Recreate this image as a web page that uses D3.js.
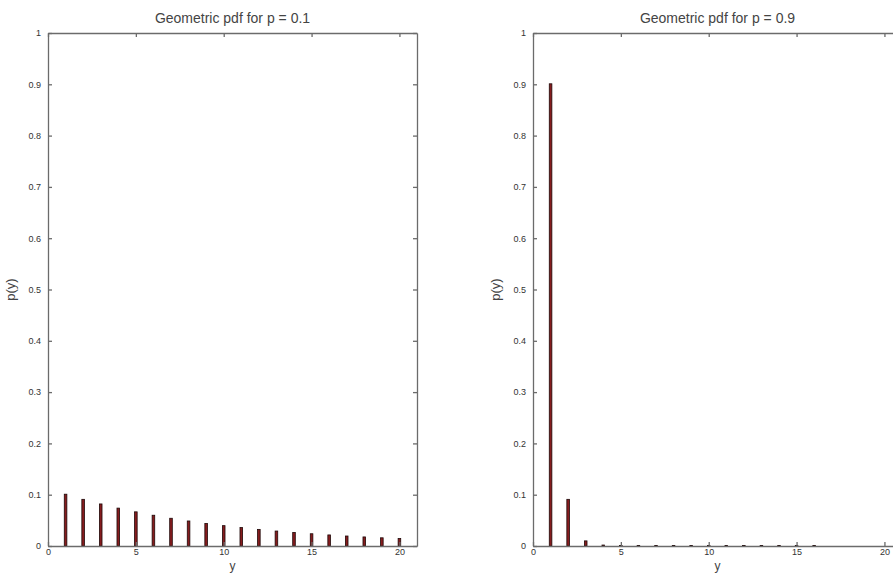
<!DOCTYPE html>
<html>
<head>
<meta charset="utf-8">
<script src="https://cdn.jsdelivr.net/npm/d3@7"></script>
<style>
  body { margin: 0; background: #fff; }
  svg { display: block; }
  .axis path, .axis line { stroke: #6b6b6b; stroke-width: 1.3; }
  .axis text { fill: #333; font-family: "Liberation Sans", Arial, sans-serif; font-size: 9px; }
  .title { fill: #444; font-family: "Liberation Sans", Arial, sans-serif; font-size: 14px; }
  .label { fill: #444; font-family: "Liberation Sans", Arial, sans-serif; font-size: 13px; }
</style>
</head>
<body>
<svg id="chart" width="893" height="576"></svg>
<script>
// y values (number of trials)
var yValues = [1, 2, 3, 4, 5, 6, 7, 8, 9, 10, 11, 12, 13, 14, 15, 16, 17, 18, 19, 20];

// p = 0.1
var pdfLow = [0.1, 0.09, 0.081, 0.0729, 0.0656, 0.059, 0.0531, 0.0478, 0.043, 0.0387,
              0.0349, 0.0314, 0.0282, 0.0254, 0.0229, 0.0206, 0.0185, 0.0167, 0.015, 0.0135];

// right panel, p = 0.9 (only the first 16 stems leave a visible mark)
var pdfHigh = [0.9, 0.09, 0.009, 0.0009, 0.00009, 0.000009, 0.0000009, 0.00000009,
               0.000000009, 0.0000000009, 0.0000000001, 0.00000000001, 0.000000000001,
               0.0000000000001, 0.00000000000001, 0.000000000000001];

var xTicks = [0, 5, 10, 15, 20];
var yTicks = [0, 0.1, 0.2, 0.3, 0.4, 0.5, 0.6, 0.7, 0.8, 0.9, 1];

var titles = ["Geometric pdf for p = 0.1", "Geometric pdf for p = 0.9"];

var svg = d3.select("#chart");

var panels = [
    {left: 48, right: 417, values: pdfLow, title: titles[0]},
    {left: 533, right: 902, values: pdfHigh, title: titles[1]}
];

var plotTop = 33, plotBottom = 546;

var yScale = d3.scaleLinear().domain([0, 1]).range([plotBottom, plotTop]);

function yFormat(d) {
    if (d === 0 || d === 1) return String(d);
    return d3.format(".1f")(d);
}

panels.forEach(function (panel) {
    var xScale = d3.scaleLinear().domain([0, 21]).range([panel.left, panel.right]);
    var g = svg.append("g");

    // stems
    g.selectAll("rect.bar")
        .data(panel.values)
        .enter()
        .append("rect")
        .attr("class", "bar")
        .attr("x", function (d, i) { return xScale(yValues[i]) - 1.3; })
        .attr("width", 2.6)
        .attr("y", function (d) { return yScale(d) - 0.5; })
        .attr("height", function (d) { return plotBottom - yScale(d) + 0.5; })
        .style("fill", "#861c1e")
        .style("stroke", "#1e0808")
        .style("stroke-width", 0.8);

    // bottom / left axes with labels, top / right just ticks (box)
    g.append("g")
        .attr("class", "axis")
        .attr("transform", "translate(0," + plotBottom + ")")
        .call(d3.axisBottom(xScale).tickValues(xTicks).tickSizeInner(-4).tickSizeOuter(0).tickPadding(3));

    g.append("g")
        .attr("class", "axis")
        .attr("transform", "translate(0," + plotTop + ")")
        .call(d3.axisTop(xScale).tickValues(xTicks).tickSizeInner(-4).tickSizeOuter(0).tickFormat(""));

    g.append("g")
        .attr("class", "axis")
        .attr("transform", "translate(" + panel.left + ",0)")
        .call(d3.axisLeft(yScale).tickValues(yTicks).tickSizeInner(-4).tickSizeOuter(0).tickPadding(7).tickFormat(yFormat));

    g.append("g")
        .attr("class", "axis")
        .attr("transform", "translate(" + panel.right + ",0)")
        .call(d3.axisRight(yScale).tickValues(yTicks).tickSizeInner(-4).tickSizeOuter(0).tickFormat(""));

    var cx = (panel.left + panel.right) / 2;

    g.append("text")
        .attr("class", "title")
        .attr("x", cx)
        .attr("y", 23)
        .attr("text-anchor", "middle")
        .text(panel.title);

    g.append("text")
        .attr("class", "label")
        .attr("x", cx)
        .attr("y", 570)
        .style("font-size", "12px")
        .attr("text-anchor", "middle")
        .text("y");

    g.append("text")
        .attr("class", "label")
        .attr("transform", "translate(" + (panel.left - 33) + "," + ((plotTop + plotBottom) / 2) + ") rotate(-90)")
        .attr("text-anchor", "middle")
        .text("p(y)");
});
</script>
</body>
</html>
